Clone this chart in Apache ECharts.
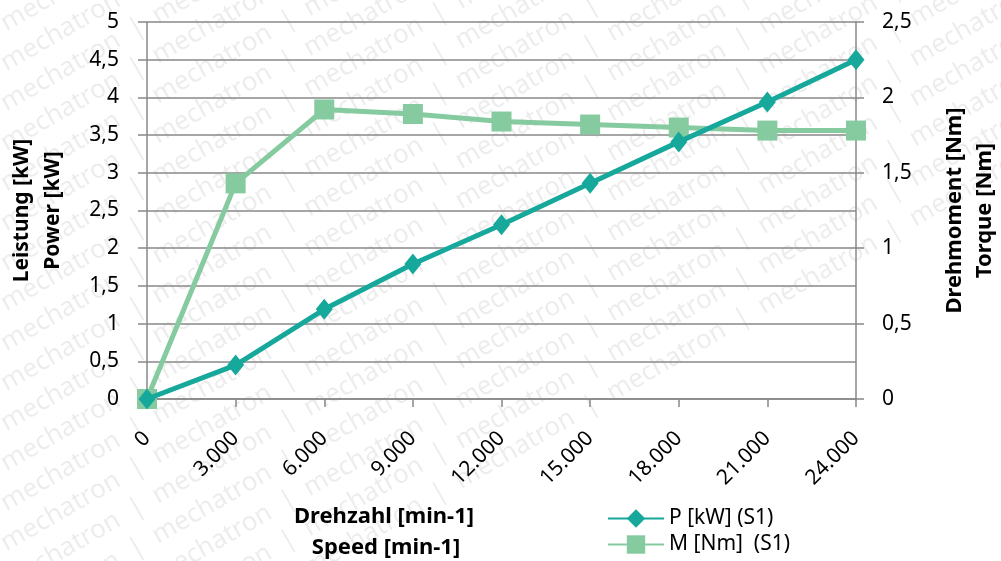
<!DOCTYPE html>
<html>
<head>
<meta charset="utf-8">
<script src="https://cdn.jsdelivr.net/npm/echarts@6/dist/echarts.min.js"></script>
<style>html,body{margin:0;padding:0;background:#fff}#c{width:1001px;height:561px}</style>
</head>
<body>
<div id="c"></div>
<script>
var categories = ['0','3.000','6.000','9.000','12.000','15.000','18.000','21.000','24.000'];
var powerKW = [0, 0.45, 1.19, 1.79, 2.31, 2.86, 3.41, 3.94, 4.50];
var torqueNm = [0, 1.43, 1.92, 1.89, 1.84, 1.82, 1.80, 1.78, 1.78];
var seriesNames = ['P [kW] (S1)', 'M [Nm]  (S1)'];

var FONT = 'Noto Sans';
var chart = echarts.init(document.getElementById('c'), null, {renderer:'canvas'});

// watermark rows
var wm = [];
var row = '';
for (var k = 0; k < 14; k++) row += 'mechatron  |  ';
for (var r = -8; r < 24; r++) {
  wm.push({
    type: 'text', x: -300, y: r * 40, rotation: Math.PI / 6, originX: 0, originY: 0,
    z: -10, silent: true,
    style: { text: row, font: '26px "Noto Sans"', fill: 'rgba(0,0,0,0.075)', textVerticalAlign: 'middle' }
  });
}

var fmt = function (v) { return String(v).replace('.', ','); };

chart.setOption({
  animation: false,
  textStyle: { fontFamily: FONT },
  graphic: wm.concat([
    { type: 'text', x: 384, y: 517, style: { text: 'Drehzahl [min-1]', font: 'bold 22px "Noto Sans"', fill: '#000', textAlign: 'center', textVerticalAlign: 'middle' } },
    { type: 'text', x: 386, y: 548, style: { text: 'Speed [min-1]', font: 'bold 22px "Noto Sans"', fill: '#000', textAlign: 'center', textVerticalAlign: 'middle' } }
  ]),
  grid: { left: 147, right: 145, top: 22, bottom: 162, containLabel: false, outerBoundsMode: 'none' },
  legend: {
    orient: 'vertical', left: 602, top: 503, height: 70, itemGap: 5, itemWidth: 56, itemHeight: 23,
    textStyle: { fontSize: 21, color: '#000', fontFamily: FONT },
    data: seriesNames
  },
  xAxis: {
    type: 'category', data: categories, boundaryGap: false,
    axisLine: { lineStyle: { color: '#888', width: 1.5 } },
    axisTick: { show: true, length: 8, lineStyle: { color: '#888', width: 1.5 } },
    axisLabel: { rotate: 45, fontSize: 21, color: '#000', margin: 36, fontFamily: FONT }
  },
  yAxis: [
    {
      type: 'value', min: 0, max: 5, interval: 0.5,
      name: 'Leistung [kW]\nPower [kW]', nameLocation: 'middle', nameGap: 78, nameRotate: 90,
      nameTextStyle: { fontWeight: 'bold', fontSize: 21, color: '#000', lineHeight: 31, fontFamily: FONT },
      axisLine: { show: true, lineStyle: { color: '#888', width: 1.5 } },
      axisTick: { show: true, length: 9, lineStyle: { color: '#888', width: 1.5 } },
      axisLabel: { fontSize: 21, color: '#000', margin: 28, formatter: fmt, fontFamily: FONT },
      splitLine: { show: true, lineStyle: { color: '#888', width: 1.5 } }
    },
    {
      type: 'value', min: 0, max: 2.5, interval: 0.5, position: 'right',
      name: 'Drehmoment [Nm]\nTorque [Nm]', nameLocation: 'middle', nameGap: 84, nameRotate: 90,
      nameTextStyle: { fontWeight: 'bold', fontSize: 22, color: '#000', lineHeight: 30, fontFamily: FONT },
      axisLine: { show: true, lineStyle: { color: '#888', width: 1.5 } },
      axisTick: { show: true, length: 8, lineStyle: { color: '#888', width: 1.5 } },
      axisLabel: { fontSize: 21, color: '#000', margin: 26, formatter: fmt, fontFamily: FONT },
      splitLine: { show: false }
    }
  ],
  series: [
    {
      name: seriesNames[0], type: 'line', yAxisIndex: 0, data: powerKW,
      symbol: 'diamond', symbolSize: [17, 21], z: 3,
      lineStyle: { color: '#17A89C', width: 5 }, itemStyle: { color: '#17A89C' }
    },
    {
      name: seriesNames[1], type: 'line', yAxisIndex: 1, data: torqueNm,
      symbol: 'rect', symbolSize: 20, z: 2,
      lineStyle: { color: '#85CB9F', width: 5 }, itemStyle: { color: '#85CB9F' }
    }
  ]
});
</script>
</body>
</html>
